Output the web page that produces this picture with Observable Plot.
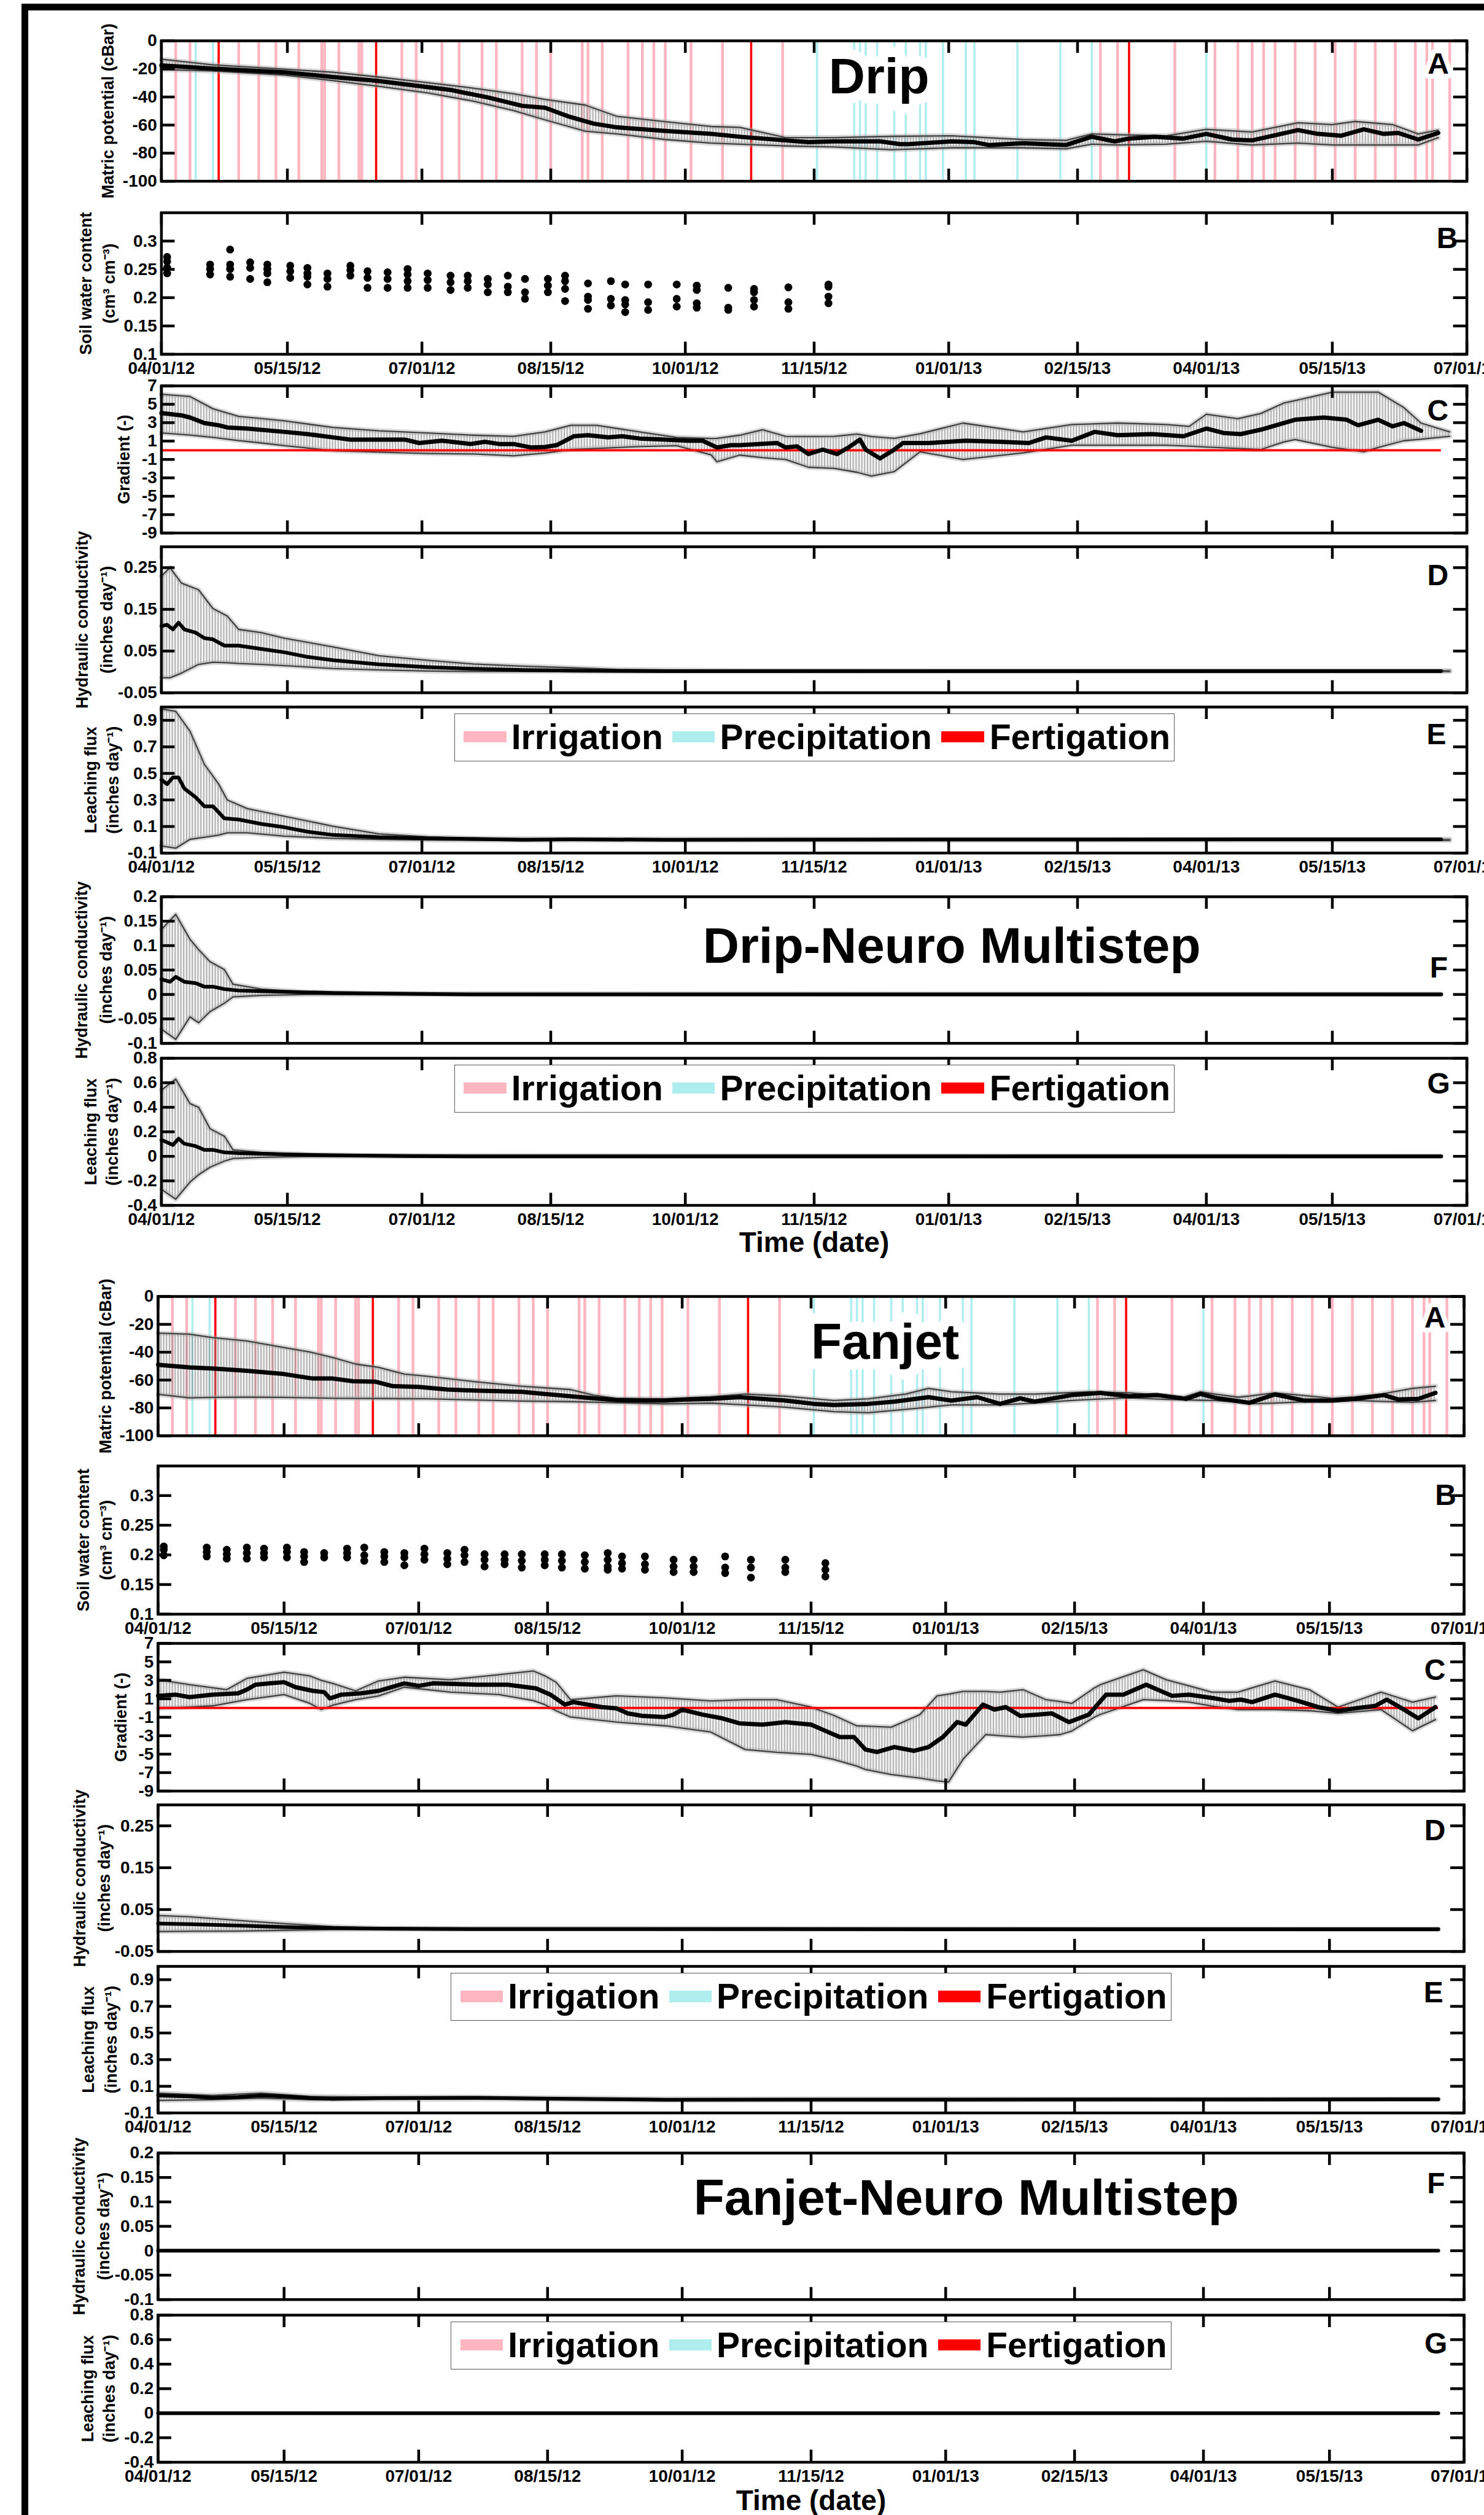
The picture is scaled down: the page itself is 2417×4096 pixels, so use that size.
<!DOCTYPE html>
<html>
<head>
<meta charset="utf-8">
<script src="https://cdn.jsdelivr.net/npm/d3@7"></script>
<script src="https://cdn.jsdelivr.net/npm/@observablehq/plot@0.6"></script>
<style>
html,body{margin:0;padding:0;background:#fff;}
#root{position:relative;width:2417px;height:4096px;overflow:hidden;background:#fff;}
.bar{position:absolute;background:#000;}
.legend{position:absolute;box-sizing:border-box;border:1.6px solid #5a5a5a;background:#fff;}
.legend .sw{position:absolute;}
.legend .lt{position:absolute;font-family:"Liberation Sans",Arial,sans-serif;font-weight:bold;line-height:1;white-space:nowrap;color:#000;}
</style>
</head>
<body>
<div id="root"></div>
<script>
// ---------------- axis ticks / labels ----------------
const xTickDays = [0,44,91,136,183,228,275,320,365,409,456]; // days since 04/01/12
const xTickLabels = ["04/01/12","05/15/12","07/01/12","08/15/12","10/01/12","11/15/12","01/01/13","02/15/13","04/01/13","05/15/13","07/01/13"];
const matricTicks = [-100,-80,-60,-40,-20,0];
const swcTicks = [0.1,0.15,0.2,0.25,0.3];
const gradTicks = [-9,-7,-5,-3,-1,1,3,5,7];
const kTicks = [-0.05,0.05,0.15,0.25];
const fluxTicks = [-0.1,0.1,0.3,0.5,0.7,0.9];
const kNeuroTicks = [-0.1,-0.05,0,0.05,0.1,0.15,0.2];
const fluxNeuroTicks = [-0.4,-0.2,0,0.2,0.4,0.6,0.8];

// ---------------- water events (days since 04/01/12) ----------------
const irrigationDays = [5,10,27,34,40,48,56,57,62,69,70,84,89,98,104,112,117,126,131,136,147,149,154,163,168,172,176,185,196,217,328,334,354,368,376,381,385,389,396,403,410,417,424,431,438,442,444,450];
const precipitationDays = [12,18,229,242,244,246,250,256,260,265,267,273,281,284,299,314,325,365];
const fertigationDays = [20,75,206,338];
const legendLabels = ["Irrigation","Precipitation","Fertigation"];
const legendColors = ["#ffb6c1","#aeeeee","#ff0000"];
const gradientRef = 0, recordStartDay = 0, recordEndDay = 447;

// ---------------- DRIP ----------------
const dripA_day = [0,18,43,60,75,88,101,114,126,134,142,151,159,176,192,203,218,226,235,251,258,261,276,284,289,301,316,325,333,338,347,357,365,374,381,397,404,412,420,427,432,439,446];
const dripA_mean = [-17.5,-19.8,-22.4,-25.8,-28.4,-31.7,-35,-40.3,-46.3,-47.7,-53.7,-59,-61.6,-64.2,-66.3,-68.5,-70.9,-72.2,-71.6,-71.6,-73.6,-73.6,-71.6,-72.2,-74.2,-72.9,-74.2,-68.3,-71.6,-69.6,-68.3,-69.6,-66.3,-70.3,-70.9,-63.6,-66.3,-67.6,-63,-66.3,-65.6,-70.3,-65.6];
const dripA_bandDay = [0,18,43,60,76,93,109,123,134,148,159,176,192,202,218,235,255,276,301,316,325,334,351,365,381,397,409,417,430,439,446];
const dripA_hi = [-13.1,-17.1,-20.2,-22.4,-25.8,-29.8,-33.7,-37.7,-41.7,-45.7,-53.7,-57.6,-61,-61.6,-68.9,-68.9,-68,-67.6,-70.3,-70.9,-66.3,-66.9,-67.6,-63,-64.9,-58.3,-59.6,-57.4,-59.6,-66.3,-63.6];
const dripA_lo = [-20.5,-21.5,-24.4,-28.4,-32.4,-37.1,-43,-49.7,-56.3,-64.3,-66.3,-70.3,-72.9,-73.6,-74.9,-75.6,-77.6,-76.2,-76.2,-76.9,-73.6,-74.2,-73.6,-71.6,-74.2,-72.9,-74.2,-74.2,-74.2,-74.2,-69];

const dripB_day = [2,17,24,31,37,45,51,58,66,72,79,86,93,101,107,114,121,127,135,141,149,157,162,170,180,187,198,207,219,233];
const dripB_theta = [[.272,.264,.253,.243],[.2585,.2506,.2409],[.285,.2585,.2506,.237],[.2624,.2526,.2331],[.2585,.2506,.2428,.2272],[.2565,.2467,.235],[.2526,.2428,.237,.2233],[.2428,.2331,.2194],[.2565,.2487,.2389],[.2467,.235,.2174],[.2448,.2331,.2174],[.2506,.2409,.2292,.2174],[.2428,.2311,.2174],[.2389,.2272,.2135],[.2389,.2292,.2174],[.2331,.2233,.2096],[.2389,.2194,.2096],[.2331,.2096,.1979],[.2331,.2213,.2096],[.2389,.2292,.2155,.194],[.2252,.2018,.1959,.1803],[.2292,.1979,.1862],[.2233,.1959,.1881,.1745],[.2233,.192,.1784],[.2233,.1979,.1842],[.2213,.2135,.1901,.1823],[.2174,.1823,.1784],[.2155,.2096,.1959,.1842],[.2182,.192,.1803],[.2233,.2194,.2018,.1901]];

const dripC_day = [0,7,10,15,20,23,30,43,51,60,66,76,85,90,98,108,113,118,123,129,134,138,144,149,156,161,167,176,184,189,194,199,202,215,218,222,226,231,236,240,244,246,251,256,259,268,281,293,303,309,318,326,334,346,357,365,371,377,384,396,406,414,418,425,430,434,440];
const dripC_mean = [4.04,3.8,3.56,2.96,2.72,2.48,2.36,2.0,1.76,1.4,1.16,1.16,1.16,0.79,1.04,0.68,0.92,0.68,0.68,0.31,0.36,0.55,1.52,1.64,1.4,1.52,1.28,1.16,1.04,1.04,0.31,0.55,0.55,0.79,0.31,0.43,-0.41,0.07,-0.41,0.31,1.16,0.07,-0.89,0.07,0.79,0.79,1.04,0.92,0.79,1.4,1.04,2.0,1.64,1.76,1.52,2.36,1.88,1.76,2.24,3.32,3.56,3.32,2.72,3.32,2.6,2.96,2.12];
const dripC_bandDay = [0,10,18,27,35,43,60,76,93,109,123,134,143,152,167,180,192,194,202,210,218,226,235,243,248,256,265,280,301,318,334,351,359,365,376,384,392,396,409,420,425,434,440,450];
const dripC_hi = [6.09,5.85,4.52,3.68,3.45,3.2,2.48,2.12,1.88,1.64,1.52,2.0,2.72,2.72,2.0,1.4,1.28,1.3,1.64,2.24,1.52,1.5,1.52,1.76,1.5,1.3,1.8,2.96,2.0,2.8,2.96,2.8,2.6,3.92,3.44,4.0,5.13,5.4,6.33,6.33,6.33,4.64,2.96,2.0];
const dripC_lo = [1.88,1.65,1.4,1.05,0.79,0.5,-0.05,-0.2,-0.35,-0.41,-0.6,-0.3,0.07,0.2,0.4,0.5,-0.5,-1.25,-0.53,-0.8,-1.01,-1.85,-1.97,-2.4,-2.81,-2.33,-0.17,-1.01,-0.29,0.55,0.55,0.55,0.45,0.35,0.2,0.07,0.9,1.16,0.31,-0.17,0.3,1.04,1.2,1.52];

const dripD_day = [0,2,4,6,8,12,15,18,22,27,35,43,51,60,76,93,109,126,143,176,250,350,447];
const dripD_mean = [0.110,0.113,0.102,0.118,0.102,0.094,0.081,0.078,0.063,0.063,0.055,0.047,0.036,0.028,0.018,0.0115,0.0073,0.0046,0.003,0.002,0.002,0.002,0.002];
const dripD_bandDay = [0,3,7,13,18,23,27,35,43,60,76,93,109,126,143,159,192,300,450];
const dripD_hi = [0.23,0.25,0.213,0.197,0.152,0.134,0.102,0.094,0.081,0.06,0.039,0.028,0.019,0.014,0.010,0.006,0.0036,0.003,0.003];
const dripD_lo = [-0.014,-0.014,-0.003,0.018,0.023,0.022,0.02,0.018,0.015,0.008,0.0046,0.002,0.001,0.001,0.001,0.001,0.001,0.001,0.001];

const dripE_day = [0,2,4,6,8,12,15,18,22,27,35,43,51,60,76,93,109,126,143,176,300,447];
const dripE_mean = [0.452,0.419,0.469,0.469,0.386,0.319,0.252,0.252,0.161,0.152,0.119,0.094,0.061,0.036,0.019,0.011,0.006,0.0,0.003,0.0,0.002,0.003];
const dripE_bandDay = [0,5,10,15,20,23,30,43,60,76,93,109,143,300,450];
const dripE_hi = [0.985,0.968,0.818,0.569,0.42,0.3,0.235,0.177,0.102,0.044,0.022,0.011,0.006,0.004,0.004];
const dripE_lo = [-0.047,-0.064,0.003,0.019,0.035,0.052,0.052,0.027,0.011,0.003,-0.002,-0.004,-0.004,-0.004,-0.004];

const dripF_day = [0,3,5,8,12,15,18,22,27,43,60,85,110,447];
const dripF_mean = [0.031,0.026,0.036,0.026,0.023,0.016,0.016,0.011,0.008,0.0055,0.003,0.0014,0,0];
const dripF_bandDay = [0,5,10,13,17,22,25,35,51,76,447];
const dripF_hi = [0.133,0.164,0.113,0.092,0.067,0.051,0.021,0.011,0.005,0.002,0.0005];
const dripF_lo = [-0.071,-0.092,-0.046,-0.058,-0.035,-0.018,-0.005,-0.002,0,0,0];

const dripG_day = [0,2,4,6,8,12,15,18,22,27,43,60,85,110,447];
const dripG_mean = [0.134,0.114,0.093,0.144,0.103,0.083,0.053,0.053,0.032,0.026,0.016,0.008,0.002,0,0];
const dripG_bandDay = [0,5,10,13,17,22,25,35,51,76,447];
const dripG_hi = [0.54,0.63,0.43,0.40,0.225,0.164,0.053,0.032,0.016,0.006,0.001];
const dripG_lo = [-0.27,-0.35,-0.21,-0.15,-0.089,-0.039,-0.018,-0.008,-0.002,0,0];

// ---------------- FANJET ----------------
const fanjetA_day = [0,11,19,31,44,54,61,68,76,82,91,101,111,127,135,144,152,160,169,177,185,193,203,219,229,236,248,257,269,277,286,294,301,306,319,329,339,349,359,364,370,381,390,400,410,418,428,433,440,446];
const fanjetA_mean = [-49,-50.9,-51.7,-53.3,-55.7,-58.9,-58.9,-60.8,-61.2,-64.4,-64.9,-66.8,-67.6,-68.4,-70,-71.6,-73.1,-74.4,-74.7,-74.7,-73.9,-73.5,-72.3,-74.7,-77.1,-77.9,-77.1,-75.5,-72.3,-74.7,-72.3,-77.1,-73.1,-75.5,-70.8,-69.2,-71.6,-70.8,-73.5,-70,-73.1,-76.3,-70.3,-74.7,-74.7,-73.5,-70.8,-73.9,-73.5,-69.2];
const fanjetA_bandDay = [0,11,19,31,44,53,61,69,77,86,94,111,127,144,152,160,177,193,205,219,236,248,261,269,277,294,306,319,325,339,352,358,364,369,377,381,390,402,410,418,427,438,446];
const fanjetA_hi = [-26.3,-27.1,-29.5,-31.9,-36.6,-39.8,-43.8,-48.5,-50.9,-55.7,-57.3,-61.2,-64.4,-66.8,-70.8,-73.1,-73.5,-71.9,-70,-71.6,-74.7,-73.5,-70,-66,-68.4,-70,-70,-69,-68.4,-69.2,-71,-72.3,-68.4,-70,-72.3,-71.5,-69.2,-71.5,-73.1,-72,-70,-66,-64.4];
const fanjetA_lo = [-70.3,-72.8,-72.5,-72.3,-72.5,-72.8,-73.1,-73.2,-73.3,-73.4,-73.5,-74.3,-75.1,-75.5,-75.9,-76.3,-77.1,-76.6,-77.9,-79.5,-82.7,-83.5,-81.1,-79.5,-77.9,-77.9,-76.5,-74.7,-74,-72.8,-73.9,-74.2,-74.5,-74.7,-76,-77.1,-76.5,-75.5,-75.2,-74.7,-75.3,-76,-74.7];

const fanjetB_day = [2,17,24,31,37,45,51,58,66,72,79,86,93,101,107,114,121,127,135,141,149,157,162,170,180,187,198,207,219,233];
const fanjetB_theta = [[.2143,.2087,.1993],[.2124,.2049,.1974],[.2087,.2012,.1937],[.2124,.2031,.1937],[.2106,.2031,.1956],[.2124,.2049,.1956],[.2049,.1974,.188],[.2031,.1956],[.2106,.2031,.1956],[.2124,.1993,.1899],[.2049,.1974,.188],[.2031,.1956,.1824],[.2106,.2012,.1918],[.2031,.1937,.1843],[.2087,.1993,.188],[.2012,.1918,.1805],[.2012,.1918,.1843],[.2012,.1899,.1786],[.2012,.1918,.1824],[.2012,.1899,.1786],[.1993,.188,.1767],[.2031,.1918,.1805,.1749],[.1974,.1861,.1767],[.1974,.1843,.1749],[.1918,.1805,.1711],[.1918,.1805,.1711],[.1974,.1786,.1692],[.1918,.1786,.1617],[.1918,.1786,.1711],[.1861,.1749,.1636]];

const fanjetC_day = [0,6,11,19,28,31,34,39,44,48,54,58,60,64,71,77,86,91,96,111,122,132,137,142,145,150,155,160,164,169,177,180,183,190,197,203,211,219,228,233,238,243,247,251,257,264,269,274,279,282,288,292,296,301,307,312,318,325,331,337,345,354,360,369,374,378,382,390,398,405,412,418,425,429,435,440,446];
const fanjetC_mean = [1.32,1.45,1.18,1.45,1.59,1.99,2.53,2.67,2.8,2.26,1.86,1.72,1.04,1.45,1.59,1.86,2.67,2.4,2.67,2.53,2.53,2.13,1.45,0.37,0.64,0.37,0.1,-0.04,-0.58,-0.85,-0.98,-0.71,-0.17,-0.71,-1.12,-1.66,-1.8,-1.53,-1.8,-2.47,-3.15,-3.15,-4.5,-4.77,-4.23,-4.64,-4.23,-3.15,-1.53,-1.8,0.37,-0.17,0.1,-0.85,-0.71,-0.58,-1.53,-0.71,1.45,1.45,2.53,1.32,1.45,1.04,0.77,0.91,0.64,1.45,0.77,0.1,-0.31,-0.04,0.23,0.91,-0.17,-1.12,0.1];
const fanjetC_bandDay = [0,11,19,24,31,44,53,57,61,69,77,86,102,119,131,135,139,144,160,177,193,205,216,228,236,244,247,256,266,272,276,281,289,294,302,310,315,319,327,329,344,352,360,368,377,390,402,412,427,438,446];
const fanjetC_hi = [3.07,2.53,2.2,1.99,3.21,3.88,3.48,3.0,2.67,1.86,2.94,3.34,3.07,3.61,4.02,3.5,2.8,0.91,1.32,1.1,0.77,0.91,0.91,0.1,-0.8,-1.93,-1.95,-2.07,-0.71,1.32,1.5,1.8,1.8,1.72,1.99,0.91,0.7,0.5,2.2,2.53,4.15,3.07,2.4,1.72,1.72,2.94,1.99,0.1,1.72,0.64,1.18];
const fanjetC_lo = [-0.04,0.1,0.23,0.5,0.91,1.45,0.5,-0.17,0.3,0.91,1.3,2.26,1.72,1.45,0.8,0.37,-0.3,-0.98,-1.53,-1.93,-2.61,-4.5,-4.8,-5.04,-5.58,-6.3,-6.67,-7.21,-7.6,-7.9,-8.02,-5.58,-2.88,-3.0,-3.15,-3.0,-2.88,-2.5,-0.98,-0.7,0.91,0.8,0.64,0.2,-0.17,-0.17,-0.3,-0.58,-0.17,-2.47,-1.26];

const fanjetD_day = [0,11,28,44,61,77,110,447];
const fanjetD_mean = [0.0165,0.015,0.012,0.008,0.0058,0.0046,0.0034,0.003];
const fanjetD_bandDay = [0,11,28,44,61,77,110,447];
const fanjetD_hi = [0.036,0.033,0.024,0.0165,0.0094,0.0058,0.0046,0.0035];
const fanjetD_lo = [-0.0026,-0.002,-0.0014,0.0005,0.0022,0.003,0.0034,0.0025];

const fanjetE_day = [0,11,19,28,36,44,53,61,77,111,144,177,447];
const fanjetE_mean = [0.031,0.024,0.014,0.019,0.031,0.024,0.011,0.006,0.011,0.014,0.006,-0.001,0.002];
const fanjetE_bandDay = [0,19,36,53,77,111,177,447];
const fanjetE_hi = [0.049,0.031,0.049,0.024,0.019,0.019,0.006,0.004];
const fanjetE_lo = [-0.006,-0.001,0.011,-0.001,0.002,0.004,-0.006,0];

const fanjetF_day = [0,100,200,300,400,447];
const fanjetF_mean = [0,0,0,0,0,0];
const fanjetG_day = [0,100,200,300,400,447];
const fanjetG_mean = [0,0,0,0,0,0];

// ---------------- builders ----------------
const K = 0.911, W = 2417;
const FONT = '"Liberation Sans", Arial, Helvetica, sans-serif';
const TICK_FONT = 28, LABEL_FONT = 27;
const root = document.getElementById("root");
const rows = (days, vals) => days.map((d, i) => ({day: d, v: vals[i]}));
const bands = (days, lo, hi) => days.map((d, i) => ({day: d, lo: lo[i], hi: hi[i]}));
const points = (days, groups) => days.flatMap((d, i) => groups[i].map(v => ({day: d, v})));
let hatchCount = 0;

function addHatch(svg) {
  const id = "hatch" + (hatchCount++);
  const ns = "http://www.w3.org/2000/svg";
  const defs = document.createElementNS(ns, "defs");
  const pat = document.createElementNS(ns, "pattern");
  const pw = (5.12 * K).toFixed(2);
  pat.setAttribute("id", id);
  pat.setAttribute("patternUnits", "userSpaceOnUse");
  pat.setAttribute("width", pw); pat.setAttribute("height", "10");
  const r = document.createElementNS(ns, "rect");
  r.setAttribute("width", pw); r.setAttribute("height", "10");
  r.setAttribute("fill", "#d6d6d6"); r.setAttribute("fill-opacity", "0.3");
  const l = document.createElementNS(ns, "line");
  l.setAttribute("x1", "1"); l.setAttribute("x2", "1"); l.setAttribute("y1", "0"); l.setAttribute("y2", "10");
  l.setAttribute("stroke", "#4c4c4c"); l.setAttribute("stroke-width", "0.8");
  pat.append(r, l); defs.append(pat);
  svg.insertBefore(defs, svg.firstChild);
  svg.querySelectorAll('g[aria-label="area"] path').forEach(p => p.setAttribute("fill", `url(#${id})`));
}

function buildLegend(sec, t0) {
  const div = document.createElement("div");
  div.className = "legend";
  Object.assign(div.style, {left: (sec.left + 524) * K + "px", top: (t0 + 12) * K + "px", width: 1288 * K + "px", height: 86 * K + "px"});
  const swX = [16, 389, 870], txX = [101, 474, 956];
  legendLabels.forEach((lab, i) => {
    const sw = document.createElement("div"); sw.className = "sw";
    Object.assign(sw.style, {left: swX[i] * K + "px", top: 31 * K + "px", width: 76 * K + "px", height: 20 * K + "px", background: legendColors[i]});
    const tx = document.createElement("div"); tx.className = "lt"; tx.textContent = lab;
    Object.assign(tx.style, {left: txX[i] * K + "px", top: "9px", fontSize: "57px"});
    div.append(sw, tx);
  });
  root.appendChild(div);
}

function buildPanel(sec, key, s) {
  const [t0, t1] = sec.rows[key];
  const left = sec.left * K, right = sec.right * K, top = t0 * K, bottom = t1 * K;
  const pw = right - left, ph = bottom - top;
  const mt = 80, mb = 100;
  const marks = [];
  if (s.events) {
    marks.push(Plot.ruleX(irrigationDays, {x: d => d, stroke: legendColors[0], strokeWidth: 4.5}));
    marks.push(Plot.ruleX(precipitationDays, {x: d => d, stroke: legendColors[1], strokeWidth: 3.5}));
    marks.push(Plot.ruleX(fertigationDays, {x: d => d, stroke: legendColors[2], strokeWidth: 3.6}));
  }
  if (s.band) {
    marks.push(Plot.areaY(s.band, {x: "day", y1: "lo", y2: "hi", fill: "#c8c8c8"}));
    for (const k of ["hi", "lo"]) {
      marks.push(Plot.line(s.band, {x: "day", y: k, stroke: "#a8a8a8", strokeWidth: 8, strokeOpacity: 0.45}));
      marks.push(Plot.line(s.band, {x: "day", y: k, stroke: "#404040", strokeWidth: 2.3}));
    }
  }
  if (s.zero) marks.push(Plot.ruleY([gradientRef], {y: d => d, x1: recordStartDay, x2: recordEndDay, stroke: "#ff0000", strokeWidth: 3.8}));
  if (s.dots) marks.push(Plot.dot(s.dots, {x: "day", y: "v", r: 6.4, fill: "black", stroke: null}));
  if (s.mean) marks.push(Plot.line(s.mean, {x: "day", y: "v", stroke: "black", strokeWidth: s.lw || 6, strokeLinejoin: "round", strokeLinecap: "round"}));
  marks.push(Plot.frame({stroke: "black", strokeWidth: 4.5}));
  const TW = 4.5;
  marks.push(Plot.tickX(xTickDays, {x: d => d, stroke: "black", strokeWidth: TW, insetBottom: ph - 20}));
  marks.push(Plot.tickX(xTickDays, {x: d => d, stroke: "black", strokeWidth: TW, insetTop: ph - 20}));
  marks.push(Plot.tickY(s.ticks, {y: d => d, stroke: "black", strokeWidth: TW, insetRight: pw - 22}));
  marks.push(Plot.tickY(s.ticks, {y: d => d, stroke: "black", strokeWidth: TW, insetLeft: pw - 22}));
  marks.push(Plot.axisY(s.ticks, {anchor: "left", tickSize: 0, tickPadding: 7, tickFormat: d => String(d), fontSize: TICK_FONT, fontWeight: "bold", label: null}));
  if (s.xLabels) marks.push(Plot.axisX(xTickDays, {anchor: "bottom", tickSize: 0, tickPadding: 12, tickFormat: d => xTickLabels[xTickDays.indexOf(d)], fontSize: TICK_FONT, fontWeight: "bold", label: null}));
  marks.push(Plot.text([s.ylabel], {text: d => d, frameAnchor: "left", rotate: -90, dx: s.ylx * K, textAnchor: "middle", lineAnchor: "middle", lineHeight: s.lh ? s.lh * 26 / LABEL_FONT : 1, fontSize: LABEL_FONT, fontWeight: "bold", fill: "black"}));
  const letterOpts = {text: d => d, frameAnchor: "top-right", dx: s.lp[1] * K, dy: s.lp[0] * K, textAnchor: "end", lineAnchor: "middle", fontSize: 48, fontWeight: "bold", fill: "black"};
  if (s.halo) Object.assign(letterOpts, {stroke: "white", strokeWidth: 16, paintOrder: "stroke", strokeLinejoin: "round"});
  marks.push(Plot.text([s.letter], letterOpts));
  if (s.title) {
    const o = {text: d => d, frameAnchor: "top-left", dx: s.tp[0] * K, dy: s.tp[1] * K, textAnchor: "middle", lineAnchor: "middle", fontSize: 82, fontWeight: "bold", fill: "black"};
    if (s.titleHalo) Object.assign(o, {stroke: "white", strokeWidth: 34, paintOrder: "stroke", strokeLinejoin: "round"});
    marks.push(Plot.text([s.title], o));
  }
  if (s.timeLabel) marks.push(Plot.text(["Time (date)"], {text: d => d, frameAnchor: "bottom", dy: s.timeLabel * K, lineAnchor: "middle", fontSize: 46, fontWeight: "bold", fill: "black"}));

  const svg = Plot.plot({
    width: W, height: ph + mt + mb,
    marginLeft: left, marginRight: W - right, marginTop: mt, marginBottom: mb,
    x: {type: "linear", domain: [0, 456], axis: null},
    y: {type: "linear", domain: s.domain, axis: null},
    style: `background:transparent;overflow:visible;font-family:${FONT};font-weight:bold;font-size:26px;color:black;max-width:none;`,
    marks
  });
  if (s.band) addHatch(svg);
  svg.style.position = "absolute";
  svg.style.left = "0px";
  svg.style.top = (top - mt) + "px";
  root.appendChild(svg);
  if (s.legend) buildLegend(sec, t0);
}

const HC = "Hydraulic conductivity\n(inches day⁻¹)";
const LF = "Leaching flux\n(inches day⁻¹)";
const SWC = "Soil water content\n(cm³ cm⁻³)";

const drip = {left: 288, right: 2622, rows: {A: [72, 323], B: [380, 633], C: [689, 952], D: [977, 1238], E: [1263, 1524], F: [1603, 1865], G: [1891, 2154]}};
const fanjet = {left: 282, right: 2617, rows: {A: [2317, 2566], B: [2620, 2885], C: [2937, 3201], D: [3226, 3488], E: [3515, 3777], F: [3848, 4110], G: [4138, 4401]}};

const dripSpecs = {
  A: {domain: [-100, 0], ticks: matricTicks, events: true, mean: rows(dripA_day, dripA_mean), band: bands(dripA_bandDay, dripA_lo, dripA_hi), lw: 7,
      ylabel: "Matric potential (cBar)", ylx: -95, letter: "A", lp: [41.5, -32], halo: true, title: "Drip", tp: [1283, 65.5], titleHalo: true},
  B: {domain: [0.1, 0.35], ticks: swcTicks, dots: points(dripB_day, dripB_theta), xLabels: true, ylabel: SWC, ylx: -117.5, lh: 1.44, letter: "B", lp: [46, -16]},
  C: {domain: [-9, 7], ticks: gradTicks, zero: true, mean: rows(dripC_day, dripC_mean), band: bands(dripC_bandDay, dripC_lo, dripC_hi), lw: 7, ylabel: "Gradient (-)", ylx: -66, letter: "C", lp: [45, -33]},
  D: {domain: [-0.05, 0.3], ticks: kTicks, mean: rows(dripD_day, dripD_mean), band: bands(dripD_bandDay, dripD_lo, dripD_hi), ylabel: HC, ylx: -124, lh: 1.54, letter: "D", lp: [52, -33]},
  E: {domain: [-0.1, 1.0], ticks: fluxTicks, mean: rows(dripE_day, dripE_mean), band: bands(dripE_bandDay, dripE_lo, dripE_hi), xLabels: true, legend: true, ylabel: LF, ylx: -109, lh: 1.4, letter: "E", lp: [49.5, -37]},
  F: {domain: [-0.1, 0.2], ticks: kNeuroTicks, mean: rows(dripF_day, dripF_mean), band: bands(dripF_bandDay, dripF_lo, dripF_hi), ylabel: HC, ylx: -124.5, lh: 1.51, letter: "F", lp: [128, -34], title: "Drip-Neuro Multistep", tp: [1413, 89]},
  G: {domain: [-0.4, 0.8], ticks: fluxNeuroTicks, mean: rows(dripG_day, dripG_mean), band: bands(dripG_bandDay, dripG_lo, dripG_hi), xLabels: true, legend: true, timeLabel: 67, ylabel: LF, ylx: -109.5, lh: 1.37, letter: "G", lp: [46, -30]}
};
const fanjetSpecs = {
  A: {domain: [-100, 0], ticks: matricTicks, events: true, mean: rows(fanjetA_day, fanjetA_mean), band: bands(fanjetA_bandDay, fanjetA_lo, fanjetA_hi), lw: 7,
      ylabel: "Matric potential (cBar)", ylx: -93.5, letter: "A", lp: [39, -33], halo: true, title: "Fanjet", tp: [1300, 83], titleHalo: true},
  B: {domain: [0.1, 0.35], ticks: swcTicks, dots: points(fanjetB_day, fanjetB_theta), xLabels: true, ylabel: SWC, ylx: -116, lh: 1.44, letter: "B", lp: [53, -14]},
  C: {domain: [-9, 7], ticks: gradTicks, zero: true, mean: rows(fanjetC_day, fanjetC_mean), band: bands(fanjetC_bandDay, fanjetC_lo, fanjetC_hi), lw: 7, ylabel: "Gradient (-)", ylx: -66, letter: "C", lp: [48, -33]},
  D: {domain: [-0.05, 0.3], ticks: kTicks, mean: rows(fanjetD_day, fanjetD_mean), band: bands(fanjetD_bandDay, fanjetD_lo, fanjetD_hi), ylabel: HC, ylx: -122, lh: 1.54, letter: "D", lp: [46, -33]},
  E: {domain: [-0.1, 1.0], ticks: fluxTicks, mean: rows(fanjetE_day, fanjetE_mean), band: bands(fanjetE_bandDay, fanjetE_lo, fanjetE_hi), xLabels: true, legend: true, ylabel: LF, ylx: -107, lh: 1.4, letter: "E", lp: [47, -37]},
  F: {domain: [-0.1, 0.2], ticks: kNeuroTicks, mean: rows(fanjetF_day, fanjetF_mean), ylabel: HC, ylx: -123, lh: 1.51, letter: "F", lp: [55, -34], title: "Fanjet-Neuro Multistep", tp: [1445, 82]},
  G: {domain: [-0.4, 0.8], ticks: fluxNeuroTicks, mean: rows(fanjetG_day, fanjetG_mean), xLabels: true, legend: true, timeLabel: 69, ylabel: LF, ylx: -109, lh: 1.37, letter: "G", lp: [52, -30]}
};

for (const key of ["A", "B", "C", "D", "E", "F", "G"]) buildPanel(drip, key, dripSpecs[key]);
for (const key of ["A", "B", "C", "D", "E", "F", "G"]) buildPanel(fanjet, key, fanjetSpecs[key]);

// outer figure border (top and left edges)
const topBar = document.createElement("div"); topBar.className = "bar";
Object.assign(topBar.style, {left: 38 * K + "px", top: 7 * K + "px", width: (W - 38 * K) + "px", height: 12 * K + "px"});
const leftBar = document.createElement("div"); leftBar.className = "bar";
Object.assign(leftBar.style, {left: 38 * K + "px", top: 7 * K + "px", width: 13 * K + "px", height: (4096 - 7 * K) + "px"});
root.append(topBar, leftBar);
</script>
</body>
</html>
